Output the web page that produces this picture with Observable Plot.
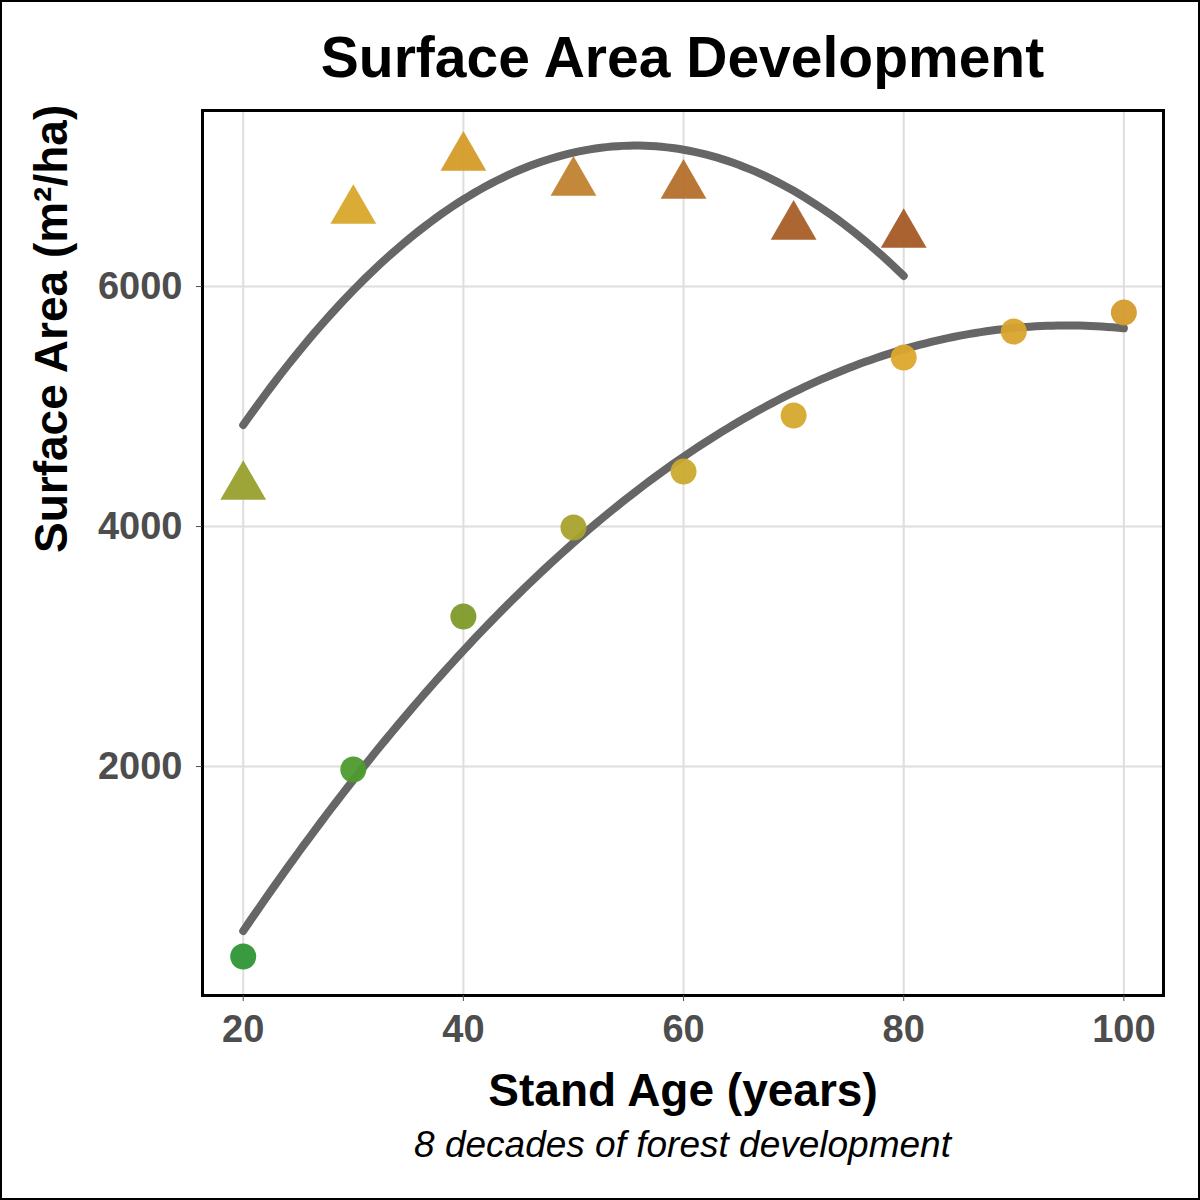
<!DOCTYPE html>
<html><head><meta charset="utf-8">
<script src="https://cdn.jsdelivr.net/npm/d3@7"></script>
<script src="https://cdn.jsdelivr.net/npm/@observablehq/plot@0.6"></script>
<style>
body{margin:0;font-family:"Liberation Sans",Arial,sans-serif;}
#page{position:relative;width:1200px;height:1200px;background:#fff;}
#border{position:absolute;left:0;top:0;width:1200px;height:1200px;box-sizing:border-box;border:2px solid #000;pointer-events:none;}
#title{position:absolute;top:22px;left:202px;width:961px;text-align:center;font-weight:bold;font-size:57px;line-height:70px;}
#plot{position:absolute;top:100px;left:0;}
#caption{position:absolute;top:1124px;left:202px;width:961px;text-align:center;font-style:italic;font-size:37px;}
</style></head>
<body>
<div id="page">
<div id="title">Surface Area Development</div>
<div id="plot"></div>
<div id="caption">8 decades of forest development</div>
<div id="border"></div>
</div>
<script>
const ageA = [20, 30, 40, 50, 60, 70, 80, 90, 100];
const areaA = [417, 1975, 3250, 3992, 4458, 4925, 5408, 5625, 5783];
const colorA = ["#2f9535", "#4d9a2e", "#7f9a2a", "#a8a22c", "#c9aa2e", "#d6a92c", "#dca82c", "#d9a42c", "#d49a2c"];
const ageB = [20, 30, 40, 50, 60, 70, 80];
const areaB = [4333, 6633, 7075, 6867, 6842, 6500, 6433];
const colorB = ["#98a02e", "#d9a82a", "#d49b28", "#c0822e", "#b4702c", "#a65e26", "#a65a26"];

const ptsA = ageA.map((x, i) => ({x, y: areaA[i], c: colorA[i]}));
const ptsB = ageB.map((x, i) => ({x, y: areaB[i], c: colorB[i]}));

// quadratic least-squares fit
function quadFit(xs, ys) {
  const S = (f) => d3.sum(xs, (x, i) => f(x, ys[i]));
  const n = xs.length;
  const s1 = S(x => x), s2 = S(x => x * x), s3 = S(x => x ** 3), s4 = S(x => x ** 4);
  const t0 = S((x, y) => y), t1 = S((x, y) => x * y), t2 = S((x, y) => x * x * y);
  const M = [[n, s1, s2, t0], [s1, s2, s3, t1], [s2, s3, s4, t2]];
  for (let i = 0; i < 3; i++) for (let j = i + 1; j < 3; j++) {
    const f = M[j][i] / M[i][i];
    for (let k = i; k < 4; k++) M[j][k] -= f * M[i][k];
  }
  const c = [0, 0, 0];
  for (let i = 2; i >= 0; i--) {
    let s = M[i][3];
    for (let k = i + 1; k < 3; k++) s -= M[i][k] * c[k];
    c[i] = s / M[i][i];
  }
  const lo = d3.min(xs), hi = d3.max(xs);
  return d3.range(lo, hi + 0.01, 0.5).map(x => ({x, y: c[0] + c[1] * x + c[2] * x * x}));
}
const fitA = quadFit(ageA, areaA);
const fitB = quadFit(ageB, areaB);

const plot = Plot.plot({
  width: 1200,
  height: 1020,
  marginLeft: 202,
  marginRight: 37,
  marginTop: 10,
  marginBottom: 125,
  style: {fontFamily: "Liberation Sans, Arial, sans-serif", background: "transparent"},
  x: {domain: [16.3, 103.6]},
  y: {domain: [92, 7467]},
  marks: [
    Plot.gridX([20, 40, 60, 80, 100], {stroke: "#dedede", strokeOpacity: 1, strokeWidth: 2}),
    Plot.gridY([2000, 4000, 6000], {stroke: "#dedede", strokeOpacity: 1, strokeWidth: 2}),
    Plot.line(fitB, {x: "x", y: "y", stroke: "#666", strokeWidth: 8}),
    Plot.line(fitA, {x: "x", y: "y", stroke: "#666", strokeWidth: 8}),
    Plot.dot(ptsA, {x: "x", y: "y", fill: d => d.c, r: 13, fillOpacity: 0.95}),
    Plot.dot(ptsB, {x: "x", y: "y", fill: d => d.c, r: 17, symbol: "triangle", fillOpacity: 0.95}),
    Plot.frame({stroke: "#000", strokeWidth: 3}),
    Plot.axisX([20, 40, 60, 80, 100], {tickSize: 6, tickPadding: 14, fontSize: 38, fontWeight: "bold", color: "#4d4d4d",
      label: "Stand Age (years)", labelAnchor: "center", labelArrow: "none", labelOffset: 110}),
    Plot.axisY([2000, 4000, 6000], {tickSize: 6, tickPadding: 14, fontSize: 38, fontWeight: "bold", color: "#4d4d4d",
      tickFormat: d => String(d), label: null}),
    Plot.text(["Surface Area (m²/ha)"], {frameAnchor: "left", dx: -150, rotate: -90, fontSize: 46, fontWeight: "bold", fill: "#000"})
  ]
});
plot.querySelectorAll("g[aria-label='x-axis label'] text").forEach(t => {
  t.style.fontSize = "46px"; t.style.fontWeight = "bold"; t.setAttribute("fill", "#000");
});
document.querySelector("#plot").append(plot);
</script>
</body></html>
